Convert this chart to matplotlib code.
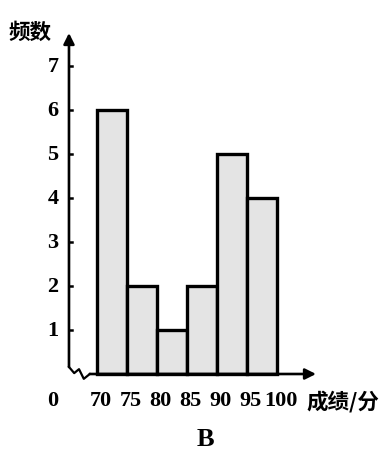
import numpy as np
import matplotlib.pyplot as plt

# score bins (left edges) and frequencies
bin_left = [70, 75, 80, 85, 90, 95]
freq = [6, 2, 1, 2, 5, 4]
bin_width = 5
x_ticks = [70, 75, 80, 85, 90, 95, 100]
y_ticks = [1, 2, 3, 4, 5, 6, 7]

serif = ['Liberation Serif', 'DejaVu Serif']
cjk = ['Noto Sans CJK SC', 'DejaVu Sans']

fig = plt.figure(figsize=(3.83, 4.52), dpi=100)
ax = fig.add_axes([0, 0, 1, 1])
# pixel layout: 6 px per score unit (70 -> x=97), 44 px per count (0 -> y=375)
ax.set_xlim((0 - 97) / 6 + 70, (383 - 97) / 6 + 70)
ax.set_ylim((375 - 452) / 44, 375 / 44)
ax.axis('off')

x0 = 65.33  # where the vertical axis stands

ax.bar(bin_left, freq, width=bin_width, align='edge', color='#e4e4e4',
       edgecolor='black', linewidth=2.4, zorder=2)

# vertical axis with arrow
ax.annotate('', xy=(x0, 7.75), xytext=(x0, 0.16),
            arrowprops=dict(arrowstyle='-|>', color='black', lw=1.9,
                            mutation_scale=16, shrinkA=0, shrinkB=0))
# horizontal axis with arrow
ax.annotate('', xy=(106.5, 0), xytext=(68.8, 0),
            arrowprops=dict(arrowstyle='-|>', color='black', lw=1.9,
                            mutation_scale=16, shrinkA=0, shrinkB=0))
# break squiggle near the origin
zx = [x0, 66.2, 67.0, 67.8, 68.8]
zy = [0.16, 0.02, 0.11, -0.11, 0.0]
ax.plot(zx, zy, color='black', lw=1.6, zorder=3)

for t in y_ticks:
    ax.plot([x0, x0 + 0.45], [t, t], color='black', lw=1.8)
    ax.text(63.6, t, str(t), ha='right', va='center', fontsize=16,
            family=serif, fontweight='bold')

for t in x_ticks:
    ax.text(t + 0.6, -0.6, str(t), ha='center', va='center', fontsize=16,
            family=serif, fontweight='bold')
ax.text(62.6, -0.6, '0', ha='center', va='center', fontsize=16,
        family=serif, fontweight='bold')

ax.text((306 - 97) / 6 + 70, -0.6, '成绩/分', ha='left', va='center',
        fontsize=15.5, family=cjk, fontweight='bold')
ax.text((9 - 97) / 6 + 70, (375 - 32) / 44, '频数', ha='left', va='center',
        fontsize=15.5, family=cjk, fontweight='bold')
ax.text((205 - 97) / 6 + 70, (375 - 440) / 44, 'B', ha='center', va='center',
        fontsize=19, family=serif, fontweight='bold')

fig.savefig('out.png', dpi=100)
